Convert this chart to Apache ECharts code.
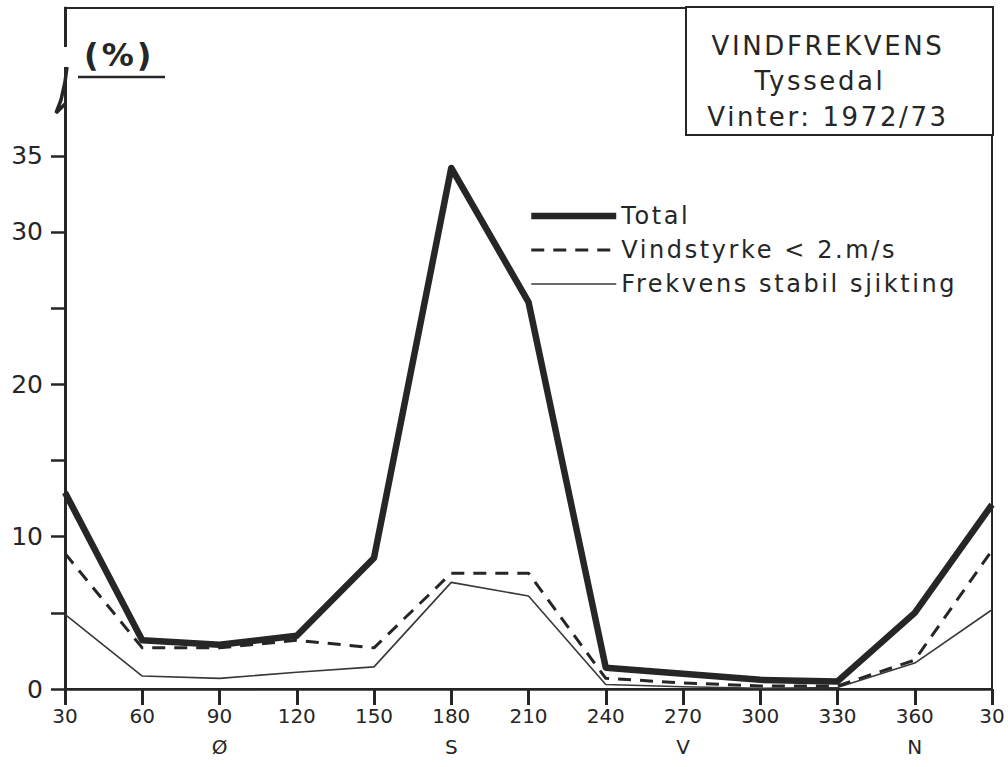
<!DOCTYPE html>
<html>
<head>
<meta charset="utf-8">
<script src="https://cdn.jsdelivr.net/npm/echarts@6/dist/echarts.min.js"></script>
<style>
html,body{margin:0;padding:0;background:#fff;}
#chart{width:1008px;height:767px;}
</style>
</head>
<body>
<div id="chart"></div>
<script>
// Direction angles (degrees); the last point repeats 30 after a full turn
const angles = [30, 60, 90, 120, 150, 180, 210, 240, 270, 300, 330, 360, 390];
const tickLabels = ['30', '60', '90', '120', '150', '180', '210', '240', '270', '300', '330', '360', '30'];
const directionLabels = ['', '', 'Ø', '', '', 'S', '', '', 'V', '', '', 'N', ''];

const totalValues  = [12.9, 3.2, 2.9, 3.5, 8.6, 34.2, 25.4, 1.4, 1.0, 0.6, 0.5, 5.0, 12.1];
const calmValues   = [8.9, 2.7, 2.7, 3.2, 2.7, 7.6, 7.6, 0.7, 0.4, 0.2, 0.2, 1.9, 9.1];
const stableValues = [4.9, 0.85, 0.7, 1.1, 1.45, 7.0, 6.1, 0.3, 0.15, 0.05, 0.1, 1.7, 5.2];

const yTickValues = [0, 5, 10, 15, 20, 25, 30, 35];
const yLabelValues = [0, 10, 20, 30, 35];

const seriesNames = ['Total', 'Vindstyrke < 2.m/s', 'Frekvens stabil sjikting'];
const titleLines = ['VINDFREKVENS', 'Tyssedal', 'Vinter: 1972/73'];
const unitLabel = '(%)';

const pair = arr => arr.map((v, i) => [angles[i], v]);
const ink = '#262626';
const font = '"DejaVu Sans", "Liberation Sans", sans-serif';

const styles = [
  {color: ink, width: 6.5, type: 'solid'},
  {color: ink, width: 3, type: [13, 9]},
  {color: '#383838', width: 1.6, type: 'solid'}
];

const chart = echarts.init(document.getElementById('chart'), null, {renderer: 'svg'});
chart.setOption({
  backgroundColor: '#ffffff',
  animation: false,
  textStyle: {fontFamily: font, color: ink},
  grid: {left: 65, right: 16, top: 8, bottom: 78, show: true, borderColor: ink, borderWidth: 2, backgroundColor: 'transparent'},
  title: {
    text: unitLabel, left: 79, top: 34,
    textStyle: {fontFamily: font, fontSize: 32, fontWeight: 'bold', color: ink}
  },
  legend: {
    orient: 'vertical', left: 523, top: 199,
    itemWidth: 85, itemHeight: 14, itemGap: 10,
    textStyle: {fontFamily: font, fontSize: 24, color: ink},
    data: seriesNames.map((n, i) => ({
      name: n,
      itemStyle: {opacity: 0},
      lineStyle: {width: styles[i].width, type: styles[i].type, color: styles[i].color}
    }))
  },
  xAxis: {
    type: 'value', min: 30, max: 390, interval: 30,
    axisLine: {show: true, onZero: false, lineStyle: {color: ink, width: 2.5}},
    axisTick: {show: true, inside: false, length: 16, lineStyle: {color: ink, width: 3}},
    splitLine: {show: false},
    axisLabel: {
      margin: 11, fontSize: 20, color: ink, lineHeight: 31, fontFamily: font,
      showMinLabel: true, showMaxLabel: true,
      formatter: v => {
        const i = angles.indexOf(v);
        if (i < 0) return '';
        return directionLabels[i] ? tickLabels[i] + '\n' + directionLabels[i] : tickLabels[i];
      }
    }
  },
  yAxis: {
    type: 'value', min: 0, max: 44.7,
    axisLine: {show: true, lineStyle: {color: ink, width: 3}},
    axisTick: {show: true, length: 14, customValues: yTickValues, lineStyle: {color: ink, width: 2.5}},
    splitLine: {show: false},
    axisLabel: {margin: 22, fontSize: 25, color: ink, fontFamily: font, customValues: yLabelValues}
  },
  series: seriesNames.map((n, i) => ({
    name: n, type: 'line', symbol: 'none',
    data: pair([totalValues, calmValues, stableValues][i]),
    lineStyle: {color: styles[i].color, width: styles[i].width, type: styles[i].type, join: 'round'},
    itemStyle: {color: styles[i].color},
    z: 3 - i
  })),
  graphic: [
    // axis break on the left edge
    {type: 'rect', shape: {x: 58, y: 47, width: 16, height: 20}, style: {fill: '#ffffff'}, z: 100},
    {type: 'polyline', shape: {points: [[67, 67], [65, 82], [61, 100], [56, 113], [61, 108], [66, 103]]},
     style: {stroke: ink, lineWidth: 3.5, fill: null}, z: 101},
    // underline of the unit label
    {type: 'line', shape: {x1: 78, y1: 77, x2: 165, y2: 77}, style: {stroke: ink, lineWidth: 2.5}, z: 100},
    // title box
    {type: 'rect', shape: {x: 686, y: 7, width: 307, height: 128},
     style: {fill: '#ffffff', stroke: ink, lineWidth: 2}, z: 100},
    {type: 'text', x: 828, y: 46, style: {text: titleLines[0], font: '26px ' + font, fill: ink, textAlign: 'center', textVerticalAlign: 'middle'}, z: 101},
    {type: 'text', x: 820, y: 81, style: {text: titleLines[1], font: '26px ' + font, fill: ink, textAlign: 'center', textVerticalAlign: 'middle'}, z: 101},
    {type: 'text', x: 828, y: 117, style: {text: titleLines[2], font: '26px ' + font, fill: ink, textAlign: 'center', textVerticalAlign: 'middle'}, z: 101}
  ]
});

// widen the stencil-like lettering of the legend and title box
const spacing = {};
seriesNames.forEach(n => spacing[n] = '2.6px');
titleLines.forEach(n => spacing[n] = '2.6px');
spacing[unitLabel] = '3px';
document.querySelectorAll('#chart svg text').forEach(t => {
  const s = spacing[t.textContent];
  if (s) t.style.letterSpacing = s;
});
</script>
</body>
</html>
